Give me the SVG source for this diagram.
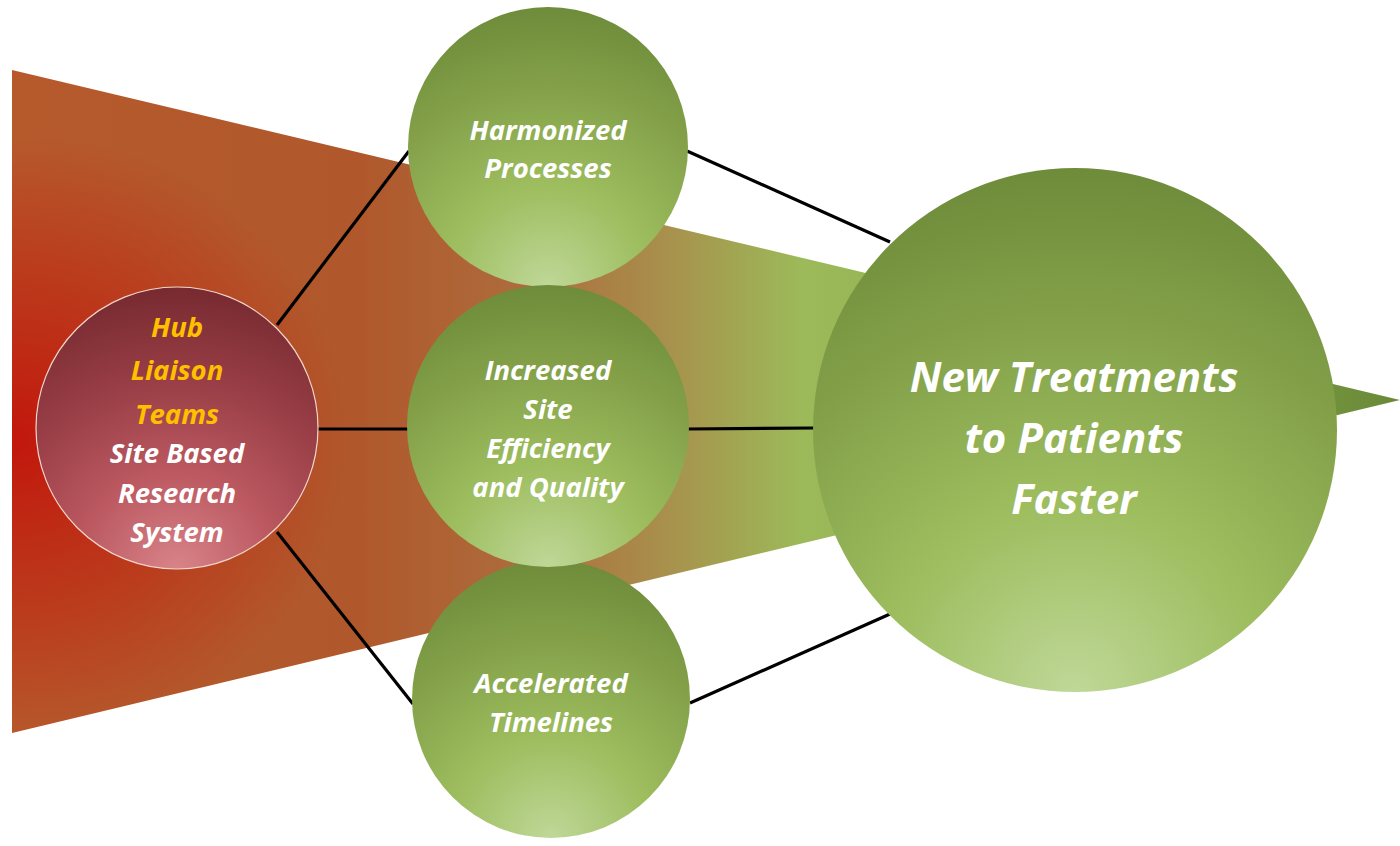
<svg xmlns="http://www.w3.org/2000/svg" width="1400" height="846" viewBox="0 0 1400 846">
<defs>
<linearGradient id="funnelG" gradientUnits="userSpaceOnUse" x1="12" y1="0" x2="1400" y2="0">
<stop offset="0" stop-color="#b65a2c"/>
<stop offset="0.25" stop-color="#b0582c"/>
<stop offset="0.38" stop-color="#ad6e3e"/>
<stop offset="0.47" stop-color="#a8904c"/>
<stop offset="0.57" stop-color="#9cba59"/>
<stop offset="0.75" stop-color="#8aab4e"/>
<stop offset="1" stop-color="#6b8a38"/>
</linearGradient>
<radialGradient id="redG" gradientUnits="userSpaceOnUse" cx="12" cy="440" r="340" gradientTransform="translate(12 440) scale(1 0.9) translate(-12 -440)">
<stop offset="0" stop-color="#c2160c" stop-opacity="1"/>
<stop offset="0.5" stop-color="#c0200f" stop-opacity="0.6"/>
<stop offset="1" stop-color="#c0200f" stop-opacity="0"/>
</radialGradient>
<radialGradient id="greenG" cx="0.5" cy="1" r="1.05" fx="0.5" fy="1">
<stop offset="0" stop-color="#bfd898"/>
<stop offset="0.35" stop-color="#9dbd5e"/>
<stop offset="0.7" stop-color="#829f48"/>
<stop offset="1" stop-color="#6a8837"/>
</radialGradient>
<radialGradient id="hubG" cx="0.5" cy="1" r="1" fx="0.5" fy="1">
<stop offset="0" stop-color="#d88489"/>
<stop offset="0.35" stop-color="#bb5860"/>
<stop offset="0.7" stop-color="#963c44"/>
<stop offset="1" stop-color="#772a30"/>
</radialGradient>
<style>
.lbl{font-family:"Open Sans","Liberation Sans",sans-serif;font-weight:bold;font-style:italic;text-anchor:middle;fill:#ffffff}
.sm{font-size:27.5px}
.big{font-size:42px}
.gold{fill:#ffc000}
.conn{stroke:#000000;stroke-width:3.2;fill:none}
.green{fill:url(#greenG)}
</style>
</defs>
<g id="funnel">
<polygon points="12,70 1400,400 12,733" fill="url(#funnelG)"/>
<polygon points="12,70 1400,400 12,733" fill="url(#redG)"/>
</g>
<g id="connectors">
<line class="conn" x1="277" y1="325" x2="409" y2="151"/>
<line class="conn" x1="317" y1="429" x2="409" y2="429"/>
<line class="conn" x1="277" y1="532" x2="413" y2="704"/>
<line class="conn" x1="687" y1="151" x2="890" y2="242"/>
<line class="conn" x1="687" y1="429" x2="814" y2="428"/>
<line class="conn" x1="690" y1="703" x2="890" y2="614"/>
</g>
<g id="hub">
<circle cx="177" cy="428" r="141" fill="url(#hubG)" stroke="#f2d6cc" stroke-width="1.2"/>
<text class="lbl sm gold" x="177" y="337">Hub</text>
<text class="lbl sm gold" x="177" y="380">Liaison</text>
<text class="lbl sm gold" x="177" y="424">Teams</text>
<text class="lbl sm" x="177" y="463">Site Based</text>
<text class="lbl sm" x="177" y="503">Research</text>
<text class="lbl sm" x="177" y="542">System</text>
</g>
<g id="harmonized">
<circle class="green" cx="548" cy="147" r="140"/>
<text class="lbl sm" x="548" y="140">Harmonized</text>
<text class="lbl sm" x="548" y="178">Processes</text>
</g>
<g id="accelerated">
<circle class="green" cx="551" cy="699" r="139"/>
<text class="lbl sm" x="551" y="693">Accelerated</text>
<text class="lbl sm" x="551" y="732">Timelines</text>
</g>
<g id="increased">
<circle class="green" cx="548" cy="426" r="141"/>
<text class="lbl sm" x="548" y="380">Increased</text>
<text class="lbl sm" x="548" y="419">Site</text>
<text class="lbl sm" x="548" y="458">Efficiency</text>
<text class="lbl sm" x="548" y="497">and Quality</text>
</g>
<g id="outcome">
<circle class="green" cx="1075" cy="430" r="262"/>
<text class="lbl big" x="1074" y="392">New Treatments</text>
<text class="lbl big" x="1074" y="453">to Patients</text>
<text class="lbl big" x="1074" y="514">Faster</text>
</g>
</svg>
